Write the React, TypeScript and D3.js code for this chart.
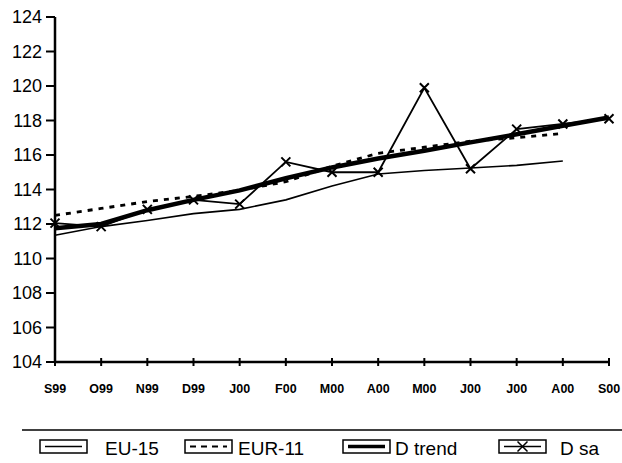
import React from "react";
import * as d3 from "d3";

const categories = ["S99", "O99", "N99", "D99", "J00", "F00", "M00", "A00", "M00", "J00", "J00", "A00", "S00"];
const yTicks = [104, 106, 108, 110, 112, 114, 116, 118, 120, 122, 124];
const eu15 = [111.35, 111.85, 112.2, 112.6, 112.85, 113.4, 114.2, 114.9, 115.1, 115.25, 115.4, 115.65];
const eur11 = [112.5, 112.9, 113.3, 113.6, 113.95, 114.45, 115.35, 116.1, 116.45, 116.8, 117.0, 117.25];
const dTrend = [111.75, 112.0, 112.8, 113.4, 113.95, 114.65, 115.28, 115.8, 116.25, 116.73, 117.2, 117.7, 118.17];
const dSa = [112.05, 111.85, 112.85, 113.4, 113.15, 115.6, 115.0, 115.0, 119.9, 115.2, 117.5, 117.8, 118.1];
const legendNames = ["EU-15", "EUR-11", "D trend", "D sa"];

export default function App() {
  const W = 622, H = 463;
  const x = d3.scalePoint<number>().domain(d3.range(categories.length)).range([55, 609]);
  const y = d3.scaleLinear().domain([104, 124]).range([362, 17]);
  const line = d3.line<number>().x((_, i) => x(i)!).y((d) => y(d));

  const legendX = [40, 185, 343, 499];
  const legendTextX = [105, 238, 395, 560];

  return (
    <svg width={W} height={H} style={{ position: "absolute", left: 0, top: 0, background: "#fff" }}
      fontFamily="Liberation Sans, Arial, sans-serif">
      <rect width={W} height={H} fill="#fff" />
      {/* y axis */}
      <line x1={55} x2={55} y1={y(124)} y2={y(104)} stroke="#000" strokeWidth={2.5} />
      {yTicks.map((t) => (
        <g key={t}>
          <line x1={46} x2={55} y1={y(t)} y2={y(t)} stroke="#000" strokeWidth={2} />
          <text x={42} y={y(t)} dy="0.36em" textAnchor="end" fontSize={18} fill="#000">{t}</text>
        </g>
      ))}
      {/* x axis */}
      <line x1={55} x2={609} y1={y(104)} y2={y(104)} stroke="#000" strokeWidth={2.5} />
      {categories.map((c, i) => (
        <g key={i}>
          <line x1={x(i)!} x2={x(i)!} y1={y(104) - 4} y2={y(104) + 4} stroke="#000" strokeWidth={2} />
          <text x={x(i)!} y={393} textAnchor="middle" fontSize={12.5} fontWeight="bold" fill="#000">{c}</text>
        </g>
      ))}
      {/* series */}
      <path d={line(eu15)!} fill="none" stroke="#000" strokeWidth={1.6} />
      <path d={line(eur11)!} fill="none" stroke="#000" strokeWidth={2.8} strokeDasharray="5,6" />
      <path d={line(dTrend)!} fill="none" stroke="#000" strokeWidth={4.5} />
      <path d={line(dSa)!} fill="none" stroke="#000" strokeWidth={1.8} />
      {dSa.map((v, i) => (
        <path key={i} d={`M${x(i)! - 4.5},${y(v) - 4.5}L${x(i)! + 4.5},${y(v) + 4.5}M${x(i)! - 4.5},${y(v) + 4.5}L${x(i)! + 4.5},${y(v) - 4.5}`}
          stroke="#000" strokeWidth={2} />
      ))}
      {/* legend */}
      <line x1={22} x2={622} y1={430} y2={430} stroke="#000" strokeWidth={1.5} />
      {legendNames.map((n, i) => {
        const bx = legendX[i], by = 440, bw = 47, bh = 13;
        const cy = by + bh / 2;
        return (
          <g key={n}>
            <rect x={bx} y={by} width={bw} height={bh} fill="#fff" stroke="#000" strokeWidth={1.5} />
            {i === 0 && <line x1={bx + 5} x2={bx + bw - 5} y1={cy} y2={cy} stroke="#000" strokeWidth={1.5} />}
            {i === 1 && <line x1={bx + 5} x2={bx + bw - 5} y1={cy} y2={cy} stroke="#000" strokeWidth={2} strokeDasharray="6,5" />}
            {i === 2 && <line x1={bx + 5} x2={bx + bw - 5} y1={cy} y2={cy} stroke="#000" strokeWidth={3.5} />}
            {i === 3 && (
              <g>
                <line x1={bx + 5} x2={bx + bw - 5} y1={cy} y2={cy} stroke="#000" strokeWidth={1.5} />
                <path d={`M${bx + bw / 2 - 5},${cy - 5}L${bx + bw / 2 + 5},${cy + 5}M${bx + bw / 2 - 5},${cy + 5}L${bx + bw / 2 + 5},${cy - 5}`} stroke="#000" strokeWidth={1.5} />
              </g>
            )}
            <text x={legendTextX[i]} y={455} fontSize={19} fill="#000">{n}</text>
          </g>
        );
      })}
    </svg>
  );
}
